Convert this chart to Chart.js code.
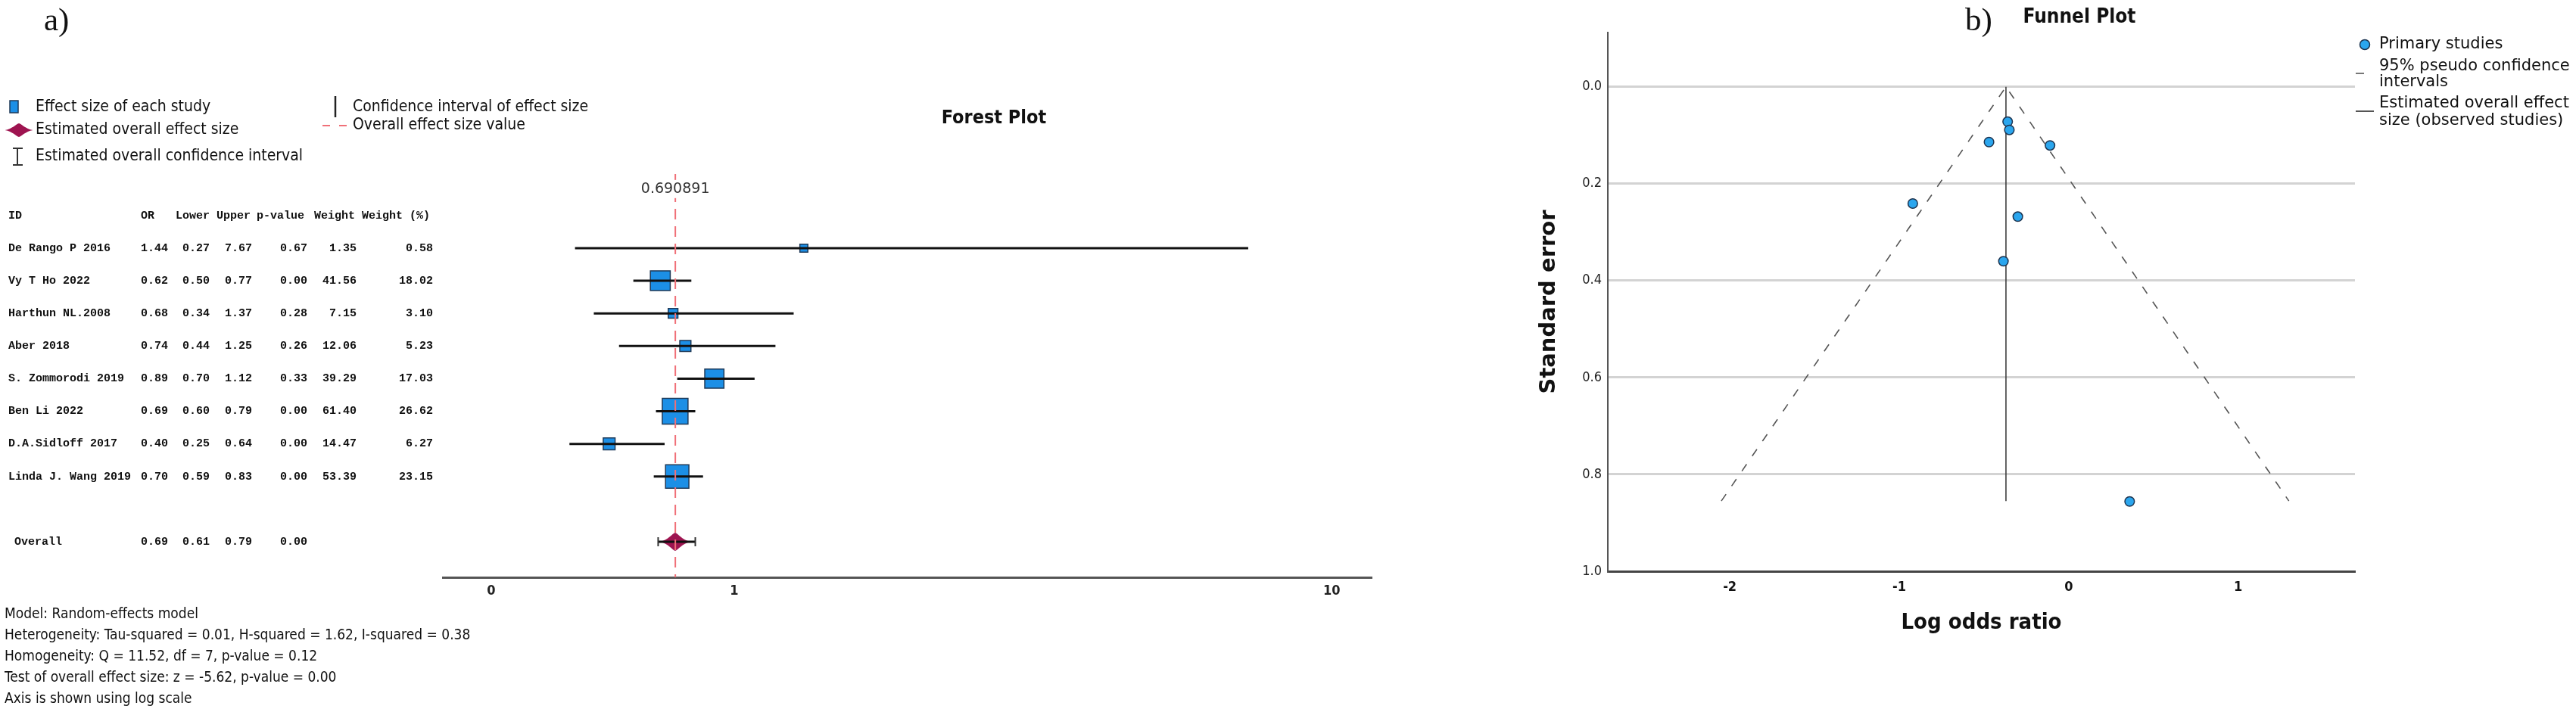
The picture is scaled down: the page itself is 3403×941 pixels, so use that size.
<!DOCTYPE html>
<html>
<head>
<meta charset="utf-8">
<script src="https://cdn.jsdelivr.net/npm/chart.js@4.4.1/dist/chart.umd.min.js"></script>
<style>
  html, body { margin: 0; padding: 0; background: #fff; }
  body { width: 3403px; height: 941px; position: relative; overflow: hidden; }
  #forestWrap { position: absolute; left: 0; top: 0; width: 1900px; height: 941px; }
  #funnelWrap { position: absolute; left: 1900px; top: 0; width: 1503px; height: 941px; }
</style>
</head>
<body>
<div id="forestWrap"><canvas id="forestChart"></canvas></div>
<div id="funnelWrap"><canvas id="funnelChart"></canvas></div>
<script>
// Forest plot data
const studies = ['De Rango P 2016', 'Vy T Ho 2022', 'Harthun NL.2008', 'Aber 2018',
                 'S. Zommorodi 2019', 'Ben Li 2022', 'D.A.Sidloff 2017', 'Linda J. Wang 2019'];
const oddsRatio = [1.44, 0.62, 0.68, 0.74, 0.89, 0.69, 0.40, 0.70];
const ciLower   = [0.27, 0.50, 0.34, 0.44, 0.70, 0.60, 0.25, 0.59];
const ciUpper   = [7.67, 0.77, 1.37, 1.25, 1.12, 0.79, 0.64, 0.83];
const pValues   = ['0.67', '0.00', '0.28', '0.26', '0.33', '0.00', '0.00', '0.00'];
const weights   = ['1.35', '41.56', '7.15', '12.06', '39.29', '61.40', '14.47', '53.39'];
const weightPct = [0.58, 18.02, 3.10, 5.23, 17.03, 26.62, 6.27, 23.15];
const overallOR = 0.69, overallLower = 0.61, overallUpper = 0.79, overallP = '0.00';
const overallValue = 0.690891;
const forestTicks = [0, 1, 10];
const modelNotes = [
  'Model: Random-effects model',
  'Heterogeneity: Tau-squared = 0.01, H-squared = 1.62, I-squared = 0.38',
  'Homogeneity: Q = 11.52, df = 7, p-value = 0.12',
  'Test of overall effect size: z = -5.62, p-value = 0.00',
  'Axis is shown using log scale'
];

// Funnel plot data (log odds ratio vs standard error)
const logOdds  = [0.36, -0.47, -0.385, -0.30, -0.11, -0.36, -0.92, -0.35];
const stdError = [0.856, 0.114, 0.36, 0.268, 0.121, 0.072, 0.241, 0.089];
const pooledLogOdds = -0.37;
const seMax = 0.855;
const ciLeftEnd = -2.05, ciRightEnd = 1.30;
const funnelXTicks = [-2, -1, 0, 1];
const funnelYTicks = [0, 0.2, 0.4, 0.6, 0.8, 1.0];

const COND = '"DejaVu Sans Condensed", "Liberation Sans Narrow", sans-serif';
const MONO = '"Liberation Mono", "DejaVu Sans Mono", monospace';
const SQUARE_BLUE = '#1c8fe6';
const DIAMOND_RED = '#9e1450';

// axis shown as log(1 + x), as in the original
class Log1pScale extends Chart.LinearScale {
  getPixelForValue(value) {
    const a = Math.log1p(this.min), b = Math.log1p(this.max);
    return this.getPixelForDecimal((Math.log1p(value) - a) / (b - a));
  }
  getValueForPixel(pixel) {
    const a = Math.log1p(this.min), b = Math.log1p(this.max);
    return Math.expm1(a + this.getDecimalForPixel(pixel) * (b - a));
  }
}
Log1pScale.id = 'log1p';
Log1pScale.defaults = Chart.LinearScale.defaults;
Chart.register(Log1pScale);

function diamondPath(g, cx, cy, w, h) {
  const hw = w / 2, hh = h / 2;
  g.beginPath();
  g.moveTo(cx - hw, cy);
  g.bezierCurveTo(cx - hw * 0.45, cy - hh * 0.2, cx - hw * 0.2, cy - hh * 0.9, cx, cy - hh);
  g.bezierCurveTo(cx + hw * 0.2, cy - hh * 0.9, cx + hw * 0.45, cy - hh * 0.2, cx + hw, cy);
  g.bezierCurveTo(cx + hw * 0.45, cy + hh * 0.2, cx + hw * 0.2, cy + hh * 0.9, cx, cy + hh);
  g.bezierCurveTo(cx - hw * 0.2, cy + hh * 0.9, cx - hw * 0.45, cy + hh * 0.2, cx - hw, cy);
  g.closePath();
}

function makeDiamond(w, h) {
  const c = document.createElement('canvas');
  c.width = w; c.height = h;
  const g = c.getContext('2d');
  g.fillStyle = DIAMOND_RED;
  diamondPath(g, w / 2, h / 2, w, h);
  g.fill();
  return c;
}

function txt(ctx, s, x, y, font, align, color) {
  ctx.font = font;
  ctx.fillStyle = color || '#111';
  ctx.textAlign = align || 'left';
  ctx.textBaseline = 'middle';
  ctx.fillText(s, x, y);
}

const yMinForest = -1.27, yMaxForest = 11.09;
const overallRow = 10;

const forestText = {
  id: 'forestText',
  afterDraw(chart) {
    const ctx = chart.ctx;
    const xs = chart.scales.x, ys = chart.scales.y;
    ctx.save();

    // panel letter and title
    ctx.font = '43px "Liberation Serif", serif';
    ctx.fillStyle = '#111'; ctx.textAlign = 'left'; ctx.textBaseline = 'alphabetic';
    ctx.fillText('a)', 58, 40);
    txt(ctx, 'Forest Plot', 1313, 156, 'bold 25px ' + COND, 'center');

    // overall value label
    const lx = xs.getPixelForValue(overallValue), ly = ys.getPixelForValue(-0.81);
    ctx.font = '19px "DejaVu Sans", sans-serif';
    const tw = ctx.measureText('0.690891').width;
    ctx.fillStyle = '#fff';
    ctx.fillRect(lx - tw / 2 - 3, ly - 12, tw + 6, 24);
    txt(ctx, '0.690891', lx, ly, '19px "DejaVu Sans", sans-serif', 'center', '#333');

    // table
    const mf = 'bold 15px ' + MONO;
    const hy = ys.getPixelForValue(0);
    txt(ctx, 'ID', 11, hy, mf);
    txt(ctx, 'OR', 186, hy, mf);
    txt(ctx, 'Lower', 232, hy, mf);
    txt(ctx, 'Upper', 286, hy, mf);
    txt(ctx, 'p-value', 339, hy, mf);
    txt(ctx, 'Weight', 415, hy, mf);
    txt(ctx, 'Weight (%)', 478, hy, mf);
    studies.forEach((s, i) => {
      const y = ys.getPixelForValue(i + 1);
      txt(ctx, s, 11, y, mf);
      txt(ctx, oddsRatio[i].toFixed(2), 222, y, mf, 'right');
      txt(ctx, ciLower[i].toFixed(2), 277, y, mf, 'right');
      txt(ctx, ciUpper[i].toFixed(2), 333, y, mf, 'right');
      txt(ctx, pValues[i], 406, y, mf, 'right');
      txt(ctx, weights[i], 471, y, mf, 'right');
      txt(ctx, weightPct[i].toFixed(2), 572, y, mf, 'right');
    });
    const oy = ys.getPixelForValue(overallRow);
    txt(ctx, 'Overall', 19, oy, mf);
    txt(ctx, overallOR.toFixed(2), 222, oy, mf, 'right');
    txt(ctx, overallLower.toFixed(2), 277, oy, mf, 'right');
    txt(ctx, overallUpper.toFixed(2), 333, oy, mf, 'right');
    txt(ctx, overallP, 406, oy, mf, 'right');

    // legend
    const lf = '21px ' + COND;
    ctx.fillStyle = SQUARE_BLUE; ctx.strokeStyle = '#1f3a58'; ctx.lineWidth = 1.5;
    ctx.fillRect(13, 133, 11, 16); ctx.strokeRect(13, 133, 11, 16);
    txt(ctx, 'Effect size of each study', 47, 142, lf);
    ctx.fillStyle = DIAMOND_RED;
    diamondPath(ctx, 25, 172, 37, 18); ctx.fill();
    txt(ctx, 'Estimated overall effect size', 47, 172, lf);
    ctx.strokeStyle = '#333'; ctx.lineWidth = 2;
    ctx.beginPath();
    ctx.moveTo(23, 196); ctx.lineTo(23, 218);
    ctx.moveTo(17, 196); ctx.lineTo(30, 196);
    ctx.moveTo(17, 218); ctx.lineTo(30, 218);
    ctx.stroke();
    txt(ctx, 'Estimated overall confidence interval', 47, 207, lf);
    ctx.strokeStyle = '#222'; ctx.lineWidth = 2.5;
    ctx.beginPath(); ctx.moveTo(443, 127); ctx.lineTo(443, 155); ctx.stroke();
    txt(ctx, 'Confidence interval of effect size', 466, 142, lf);
    ctx.strokeStyle = '#f07078'; ctx.lineWidth = 2;
    ctx.beginPath();
    ctx.moveTo(426, 166); ctx.lineTo(436, 166);
    ctx.moveTo(448, 166); ctx.lineTo(458, 166);
    ctx.stroke();
    txt(ctx, 'Overall effect size value', 466, 166, lf);

    // model notes
    modelNotes.forEach((n, i) => txt(ctx, n, 6, 812 + i * 28, '19px ' + COND));
    ctx.restore();
  }
};

const ciDatasets = studies.map((s, i) => ({
  type: 'line',
  label: s,
  data: [{ x: ciLower[i], y: i + 1 }, { x: ciUpper[i], y: i + 1 }],
  borderColor: '#111', borderWidth: 3, pointRadius: 0, order: 2
}));

new Chart(document.getElementById('forestChart'), {
  type: 'scatter',
  data: {
    datasets: [
      ...ciDatasets,
      {
        type: 'scatter',
        label: 'Effect size of each study',
        data: oddsRatio.map((v, i) => ({ x: v, y: i + 1 })),
        pointStyle: 'rect',
        pointRadius: ctx => (10 + 0.9 * weightPct[ctx.dataIndex]) / Math.SQRT2,
        backgroundColor: SQUARE_BLUE, borderColor: '#1f3a58', borderWidth: 1.5,
        order: 3
      },
      {
        type: 'scatter',
        label: 'Estimated overall effect size',
        data: [{ x: overallOR, y: overallRow }],
        pointStyle: makeDiamond(40, 24), pointRadius: 12,
        order: 3
      },
      {
        type: 'line',
        label: 'Estimated overall confidence interval',
        data: [{ x: overallLower, y: overallRow }, { x: overallUpper, y: overallRow }],
        borderColor: '#111', borderWidth: 3,
        pointStyle: 'line', rotation: 90, pointRadius: 6,
        pointBorderColor: '#333', pointBorderWidth: 2,
        order: 2
      },
      {
        type: 'line',
        label: 'Overall effect size value',
        data: [{ x: overallValue, y: yMinForest }, { x: overallValue, y: yMaxForest }],
        borderColor: '#f07078', borderWidth: 2, borderDash: [14, 9], pointRadius: 0,
        order: 0
      }
    ]
  },
  options: {
    responsive: true,
    maintainAspectRatio: false,
    animation: false,
    layout: { padding: { left: 585, right: 88, top: 230, bottom: 138 } },
    plugins: { legend: { display: false }, tooltip: { enabled: false } },
    scales: {
      x: {
        type: 'log1p', min: -0.129, max: 11.33,
        afterBuildTicks: s => { s.ticks = forestTicks.map(v => ({ value: v })); },
        afterFit: s => { s.height = 40; },
        grid: { display: false, drawTicks: false },
        border: { display: true, color: '#555', width: 3 },
        ticks: { color: '#222', padding: 8, font: { family: COND, size: 18, weight: 'bold' }, callback: v => String(v) }
      },
      y: { type: 'linear', reverse: true, min: yMinForest, max: yMaxForest, display: false }
    }
  },
  plugins: [forestText]
});

// Funnel plot
const OFF = 1900;
const funnelText = {
  id: 'funnelText',
  afterDraw(chart) {
    const ctx = chart.ctx;
    ctx.save();
    ctx.font = '43px "Liberation Serif", serif';
    ctx.fillStyle = '#111'; ctx.textAlign = 'left'; ctx.textBaseline = 'alphabetic';
    ctx.fillText('b)', 2596 - OFF, 40);
    txt(ctx, 'Funnel Plot', 2747 - OFF, 23, 'bold 26px ' + COND, 'center');

    const lf = '21px "DejaVu Sans", sans-serif';
    ctx.beginPath(); ctx.arc(3124 - OFF, 59, 6.5, 0, Math.PI * 2);
    ctx.fillStyle = '#2ba6ee'; ctx.fill();
    ctx.strokeStyle = '#1d3450'; ctx.lineWidth = 1.5; ctx.stroke();
    txt(ctx, 'Primary studies', 3143 - OFF, 59, lf);
    ctx.strokeStyle = '#777'; ctx.lineWidth = 2;
    ctx.beginPath(); ctx.moveTo(3112 - OFF, 97); ctx.lineTo(3123 - OFF, 97); ctx.stroke();
    txt(ctx, '95% pseudo confidence', 3143 - OFF, 88, lf);
    txt(ctx, 'intervals', 3143 - OFF, 109, lf);
    ctx.strokeStyle = '#555';
    ctx.beginPath(); ctx.moveTo(3112 - OFF, 147); ctx.lineTo(3136 - OFF, 147); ctx.stroke();
    txt(ctx, 'Estimated overall effect', 3143 - OFF, 137, lf);
    txt(ctx, 'size (observed studies)', 3143 - OFF, 160, lf);
    ctx.restore();
  }
};

new Chart(document.getElementById('funnelChart'), {
  type: 'scatter',
  data: {
    datasets: [
      {
        type: 'line',
        label: '95% pseudo confidence intervals',
        data: [{ x: ciLeftEnd, y: seMax }, { x: pooledLogOdds, y: 0 }, { x: ciRightEnd, y: seMax }],
        borderColor: '#555', borderWidth: 1.6, borderDash: [11, 13], pointRadius: 0, order: 2
      },
      {
        type: 'line',
        label: 'Estimated overall effect size (observed studies)',
        data: [{ x: pooledLogOdds, y: 0 }, { x: pooledLogOdds, y: seMax }],
        borderColor: '#333', borderWidth: 1.5, pointRadius: 0, order: 2
      },
      {
        type: 'scatter',
        label: 'Primary studies',
        data: logOdds.map((v, i) => ({ x: v, y: stdError[i] })),
        pointRadius: 6.3, backgroundColor: '#2ba6ee', borderColor: '#1d3450', borderWidth: 1.5,
        order: 1
      }
    ]
  },
  options: {
    responsive: true,
    maintainAspectRatio: false,
    animation: false,
    layout: { padding: { left: 125, right: 292, top: 43, bottom: 96 } },
    plugins: { legend: { display: false }, tooltip: { enabled: false } },
    scales: {
      x: {
        type: 'linear', min: -2.72, max: 1.69,
        afterBuildTicks: s => { s.ticks = funnelXTicks.map(v => ({ value: v })); },
        afterFit: s => { s.height = 90; },
        grid: { display: false, drawTicks: false },
        border: { display: true, color: '#444', width: 3 },
        ticks: { color: '#111', padding: 11, font: { family: COND, size: 18, weight: 'bold' }, callback: v => String(v) },
        title: { display: true, text: 'Log odds ratio', color: '#111', padding: 4,
                 font: { family: COND, size: 29, weight: 'bold' } }
      },
      y: {
        type: 'linear', reverse: true, min: -0.112, max: 1.0,
        afterBuildTicks: s => { s.ticks = funnelYTicks.map(v => ({ value: v })); },
        afterFit: s => { s.width = 99; },
        grid: { color: c => (c.tick && c.tick.value === 1 ? 'rgba(0,0,0,0)' : '#d3d3d3'), lineWidth: 3, drawTicks: false },
        border: { display: true, color: '#555', width: 2 },
        ticks: { color: '#222', padding: 8, font: { family: COND, size: 18 }, callback: v => v.toFixed(1) },
        title: { display: true, text: 'Standard error', color: '#111', padding: 4,
                 font: { family: '"DejaVu Sans", sans-serif', size: 29, weight: 'bold' } }
      }
    }
  },
  plugins: [funnelText]
});
</script>
</body>
</html>
